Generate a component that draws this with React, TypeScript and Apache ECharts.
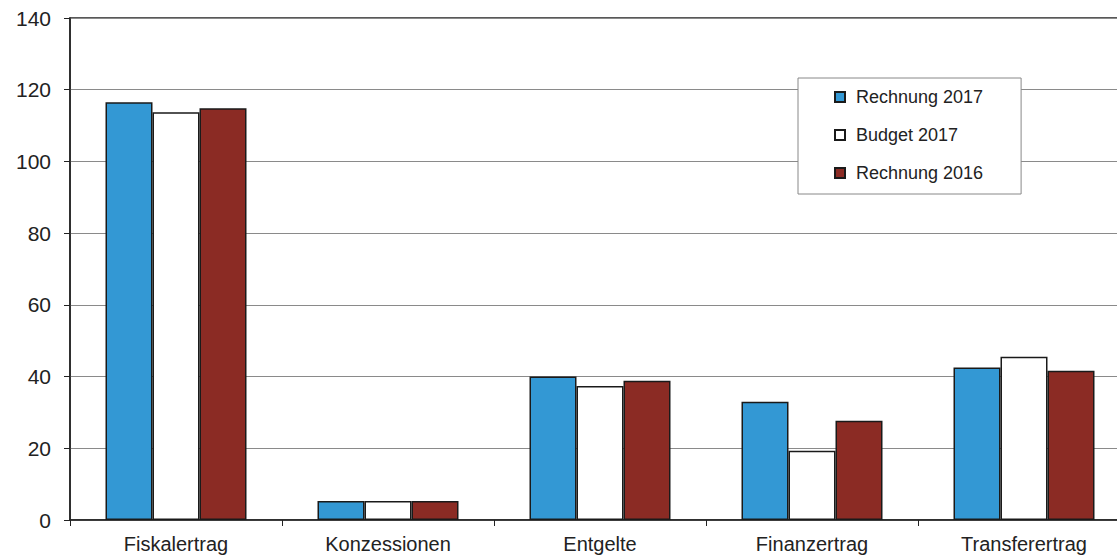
import React, { useEffect, useRef } from "react";
import * as echarts from "echarts";

const categories = ["Fiskalertrag", "Konzessionen", "Entgelte", "Finanzertrag", "Transferertrag"];
const rechnung2017 = [116.5, 5.3, 40.0, 33.0, 42.5];
const budget2017 = [113.7, 5.3, 37.4, 19.3, 45.5];
const rechnung2016 = [114.8, 5.3, 38.8, 27.7, 41.6];
const seriesNames = ["Rechnung 2017", "Budget 2017", "Rechnung 2016"];
const yTicks = { min: 0, max: 140, interval: 20 };

export default function App() {
  const ref = useRef<HTMLDivElement>(null);
  useEffect(() => {
    if (!ref.current) return;
    const chart = echarts.init(ref.current, undefined, { renderer: "svg" });
    const font = "Liberation Sans, Arial, sans-serif";
    const barStyle = (color: string) => ({ color, borderColor: "#1a1a1a", borderWidth: 1.5 });
    chart.setOption({
      animation: false,
      backgroundColor: "#ffffff",
      textStyle: { fontFamily: font },
      grid: {
        left: 70,
        top: 18,
        width: 1060,
        bottom: 37,
        outerBoundsMode: "none",
        containLabel: false,
        show: true,
        borderColor: "#222",
        borderWidth: 1.5,
        backgroundColor: "transparent",
      },
      legend: {
        orient: "vertical",
        left: 798,
        top: 78,
        padding: [10, 38, 12, 36],
        itemGap: 20,
        itemWidth: 10,
        itemHeight: 10,
        icon: "rect",
        backgroundColor: "#fff",
        borderColor: "#888",
        borderWidth: 1,
        borderRadius: 0,
        textStyle: { fontSize: 18, color: "#222", fontFamily: font, padding: [0, 0, 0, 6] },
        data: seriesNames,
      },
      xAxis: {
        type: "category",
        data: categories,
        axisLine: { lineStyle: { color: "#222", width: 1.5 } },
        axisTick: { show: true, length: 6, lineStyle: { color: "#222" } },
        axisLabel: { fontSize: 20, color: "#222", margin: 14, fontFamily: font },
      },
      yAxis: {
        type: "value",
        min: yTicks.min,
        max: yTicks.max,
        interval: yTicks.interval,
        axisLine: { show: true, lineStyle: { color: "#222", width: 1.5 } },
        axisTick: { show: true, length: 6, lineStyle: { color: "#222" } },
        axisLabel: { fontSize: 21, color: "#222", margin: 19, fontFamily: font },
        splitLine: { lineStyle: { color: "#8a8a8a", width: 1 } },
      },
      series: [
        { name: seriesNames[0], type: "bar", data: rechnung2017, barWidth: 47, barGap: "0%", itemStyle: barStyle("#3398d4") },
        { name: seriesNames[1], type: "bar", data: budget2017, barWidth: 47, barGap: "0%", itemStyle: barStyle("#ffffff") },
        { name: seriesNames[2], type: "bar", data: rechnung2016, barWidth: 47, barGap: "0%", itemStyle: barStyle("#8b2b24") },
      ],
    });
    return () => chart.dispose();
  }, []);
  return <div ref={ref} style={{ position: "fixed", left: 0, top: 0, width: 1117, height: 557 }} />;
}
